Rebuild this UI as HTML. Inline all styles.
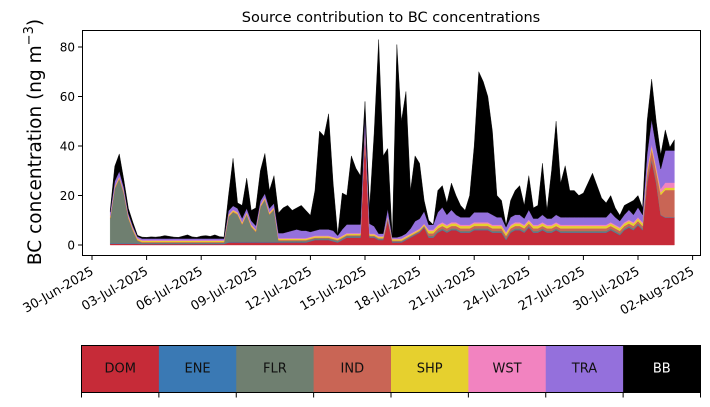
<!DOCTYPE html>
<html><head><meta charset="utf-8">
<style>
body{margin:0;background:#fff;width:710px;height:402px;overflow:hidden;font-family:"Liberation Sans","DejaVu Sans",sans-serif;}
svg text{font-family:"DejaVu Sans","Liberation Sans",sans-serif;}
</style></head>
<body>
<svg id="chart" width="710" height="402" viewBox="0 0 710 402" xmlns="http://www.w3.org/2000/svg">
<text x="391" y="22" font-size="14.5" text-anchor="middle">Source contribution to BC concentrations</text>
<text transform="translate(41,142) rotate(-90)" font-size="18.5" text-anchor="middle">BC concentration (ng m<tspan font-size="13" dy="-8">−3</tspan><tspan dy="8">)</tspan></text>
<g id="areas"></g>
<rect x="82.5" y="30.5" width="618" height="225" fill="none" stroke="#000" stroke-width="1"/>
<g id="axes"></g>
<g id="legend"></g>
</svg>
<script>
const sources = ["DOM","ENE","FLR","IND","SHP","WST","TRA","BB"];
const colors = ["#c62b38","#3a79b4","#6f7f70","#c96555","#e6d02e","#f283c0","#9470dc","#000000"];
const startDay = 0; // 01-Jul-2025 00:00, 6-hourly samples
const stepDays = 0.25;
const yTicks = [0,20,40,60,80];
const xTickDays = [-1,2,5,8,11,14,17,20,23,26,29,32];
const xTickLabels = ["30-Jun-2025","03-Jul-2025","06-Jul-2025","09-Jul-2025","12-Jul-2025","15-Jul-2025","18-Jul-2025","21-Jul-2025","24-Jul-2025","27-Jul-2025","30-Jul-2025","02-Aug-2025"];

const DOM = [.5,.5,.5,.5,.5,.5,.5,
.4,.4,.4,.4,.4,.4,.4,.4,.4,.4,.4,.4,.4,.4,.4,.4,.4,.4,.4,
1,1,1,1,1,1,1,1,1,1,1,
1,1,1,1,1,1,1,1.5,2,2,2,2,1.5,1,2,3,3,3,3,
46,3,3,2,2,10,1,1,1,2,3,4,5,7,
3,3,5,6,5,6,6,5,5,5,6,6,6,6,5,5,5,2,5,6,6,5,7,5,5,6,5,5,6,5,5,5,5,5,5,5,5,5,5,5,6,5,4,6,7,6,8,6,
25,34,25,12,11,11,11];
const ENE = [.2,.2,.2,.2,.2,.2,.2,.2,.2,.2,.2,.2,.2,.2,.2,.2,.2,.2,.2,.2,.2,.2,.2,.2,.2,
.2,.2,.2,.2,.2,.2,.2,.2,.2,.2,.2,.2,.2,.2,.2,.2,.2,.2,.2,.2,.2,.2,.2,.2,.2,
.2,.2,.2,.2,.2,.2,.2,.2,.2,.2,.2,.2,.2,.2,.2,.2,.2,.2,.2,.2,.2,.2,.2,.2,.2,
.2,.2,.2,.2,.2,.2,.2,.2,.2,.2,.2,.2,.2,.2,.2,.2,.2,.2,.2,.2,.2,.2,.2,.2,.2,
.2,.2,.2,.2,.2,.2,.2,.2,.2,.2,.2,.2,.2,.2,.2,.2,.2,.2,.2,.2,.2,.2,.2,.2,.2];
const FLR = [10,22,26,20,10,5,1,
.3,.3,.3,.3,.3,.3,.3,.3,.3,.3,.3,.3,.3,.3,.3,.3,.3,.3,.3,
10,12,11,7,11,6,4,14,17,11,13,
.5,.5,.5,.5,.5,.5,.5,.5,.5,.5,.5,.5,.5,.5,.5,.5,.5,.5,.5,
.3,.3,.3,.3,.3,.3,.3,.3,.3,.3,.3,.3,.3,.3,
.5,.5,.5,.5,.5,.5,.5,.5,.5,.5,.5,.5,.5,.5,.5,.5,.5,.5,.5,.5,.5,.5,.5,.5,.5,.5,.5,.5,.5,.5,.5,.5,.5,.5,.5,.5,.5,.5,.5,.5,.5,.5,.5,.5,
.5,.5,.5,.5,.5,.5,.5];
const IND = [.3,.3,.3,.3,.3,.3,.3,.3,.3,.3,.3,.3,.3,.3,.3,.3,.3,.3,.3,.3,.3,.3,.3,.3,.3,.3,.3,.3,.3,.3,.3,.3,.3,.3,.3,
.3,.3,.3,.3,.3,.3,.3,.3,.3,.3,.3,.3,.3,.3,.3,.3,.3,.3,.3,.3,.3,.3,.3,.3,.3,.3,.3,.3,.3,.3,.3,.3,.3,.3,.3,
1,1,1,1,1,1,1,1,1,1,1,1,1,1,1,1,1,1,1,1,1,1,1,1,1,1,1,1,1,1,1,1,1,1,1,1,1,1,1,1,1,1,1,1,1,1,1,1,
3,4,4,8,11,11,11];
const SHP = [.5,.5,.5,.5,.5,.5,.5,.5,.5,.5,.5,.5,.5,.5,.5,.5,.5,.5,.5,.5,.5,.5,.5,.5,.5,.5,.5,.5,.5,.5,.5,.5,.5,.5,.5,
.5,.5,.5,.5,.5,.5,.5,.5,.5,.5,.5,.5,.5,.5,.5,.5,.5,.5,.5,.5,.5,.5,.5,.5,.5,.5,.5,.5,.5,.5,.5,.5,.5,.5,.5,
1,1,1,1,1,1,1,1,1,1,1,1,1,1,1,1,1,1,1,1,1,1,1,1,1,1,1,1,1,1,1,1,1,1,1,1,1,1,1,1,1,1,1,1,1,1,1,1,
1,1,1,1,1,1,1];
const WST = [.3,.3,.3,.3,.3,.3,.3,.3,.3,.3,.3,.3,.3,.3,.3,.3,.3,.3,.3,.3,.3,.3,.3,.3,.3,.3,.3,.3,.3,.3,.3,.3,.3,.3,.3,
.3,.3,.3,.3,.3,.3,.3,.3,.3,.3,.3,.3,.3,.3,.3,.3,.3,.3,.3,.3,.3,.3,.3,.3,.3,.3,.3,.3,.3,.3,.3,.3,.3,.3,.3,
.5,.5,.5,.5,.5,.5,.5,.5,.5,.5,.5,.5,.5,.5,.5,.5,.5,.5,.5,.5,.5,.5,.5,.5,.5,.5,.5,.5,.5,.5,.5,.5,.5,.5,.5,.5,.5,.5,.5,.5,.5,.5,.5,.5,.5,.5,.5,.5,
1,1,1,1.5,2,2,2];
const TRA = [1.5,2,2,1.5,1,.8,.6,
.6,.6,.6,.6,.6,.6,.6,.6,.6,.6,.6,.6,.6,.6,.6,.6,.6,.6,.6,
1.5,1.5,1.5,1.5,1.5,1.5,1.5,1.5,1.5,1.5,1.5,
2,2,2.5,3,3.5,3,3,2,2,2.5,2.5,2.5,2.5,1,2.5,3.5,3.5,3.5,3.5,
5,4,3,1,1,3,.5,.5,1,1,2,4,4,5,
2,2,5,6,4,5,3,3,3,3,4,4,4,4,4,3,3,2,3,3,3,2.5,4,2.5,2.5,3,2.5,2.5,3,3,3,3,3,3,3,3,3,3,3,3,4,3,2.5,3,4,3,4,3,
6,10,8,8,13,13,13];
const BB = [0.7,6,7,3,2,1.5,0.5,
0.6,0.5,0.7,0.6,0.8,1.2,0.9,0.6,0.5,1.0,1.5,0.7,0.5,1.0,1.2,0.9,1.5,0.8,0.6,
6.2,19.2,2.2,5.2,12.2,4.2,7.2,12.2,16.2,7.2,11.2,
8.2,10.2,10.7,8.2,8.7,10.2,8.2,6.7,16.2,39.7,37.7,46.7,19.2,0.2,14.7,11.7,27.7,22.7,19.7,
5.4,6.4,37.4,78.4,31.4,24.4,0.1,77.9,46.4,57.4,15.4,26.4,22.4,4.4,
1.8,0,8.8,8.8,4.8,10.8,7.8,4.8,2.8,8.8,26.8,56.8,52.8,46.8,33.8,8.8,6.8,0.8,6.8,9.8,11.8,5.3,13.8,4.3,5.3,20.8,3.3,19.3,37.8,13.8,20.8,10.8,10.8,8.8,9.8,13.8,17.8,12.8,7.8,5.8,6.8,3.8,2.3,3.8,2.8,5.8,4.8,2.8,
13.3,16.3,10.3,5.8,8.3,1.3,4.3];

const series = [DOM,ENE,FLR,IND,SHP,WST,TRA,BB];
const NS = "http://www.w3.org/2000/svg";
function xScale(day){ return 110.2 + day*18.2; }
function yScale(v){ return 245 - v*2.475; }

const areas = document.getElementById('areas');
const n = DOM.length;
let base = new Array(n).fill(0);
series.forEach((s, k) => {
  const top = base.map((b,i) => b + (s[i]||0));
  let pts = [];
  for (let i=0;i<n;i++) pts.push(xScale(startDay+i*stepDays).toFixed(2)+","+yScale(top[i]).toFixed(2));
  for (let i=n-1;i>=0;i--) pts.push(xScale(startDay+i*stepDays).toFixed(2)+","+yScale(base[i]).toFixed(2));
  const p = document.createElementNS(NS,'polygon');
  p.setAttribute('points', pts.join(' '));
  p.setAttribute('fill', colors[k]);
  p.setAttribute('stroke', colors[k]);
  p.setAttribute('stroke-width', '0.4');
  
  
  areas.appendChild(p);
  base = top;
});

const axes = document.getElementById('axes');
yTicks.forEach(v => {
  const y = yScale(v);
  const l = document.createElementNS(NS,'line');
  l.setAttribute('x1',78); l.setAttribute('x2',82.5); l.setAttribute('y1',y); l.setAttribute('y2',y);
  l.setAttribute('stroke','#000');
  
  
  axes.appendChild(l);
  const t = document.createElementNS(NS,'text');
  t.setAttribute('x',75); t.setAttribute('y',y+4.5); t.setAttribute('font-size','12'); t.setAttribute('text-anchor','end');
  t.textContent = v;
  
  
  axes.appendChild(t);
});
xTickDays.forEach((d,i) => {
  const x = xScale(d);
  const l = document.createElementNS(NS,'line');
  l.setAttribute('x1',x); l.setAttribute('x2',x); l.setAttribute('y1',255.5); l.setAttribute('y2',260);
  l.setAttribute('stroke','#000');
  
  
  axes.appendChild(l);
  const t = document.createElementNS(NS,'text');
  t.setAttribute('transform','translate('+(x-2)+',266) rotate(-30)');
  t.setAttribute('font-size','12.8'); t.setAttribute('text-anchor','end');
  t.setAttribute('dominant-baseline','hanging');
  t.textContent = xTickLabels[i];
  
  
  axes.appendChild(t);
});

const legend = document.getElementById('legend');
const lx = 81.5, lw = 619/8;
sources.forEach((s,k) => {
  const r = document.createElementNS(NS,'rect');
  r.setAttribute('x', lx + k*lw); r.setAttribute('y', 345.5); r.setAttribute('width', lw+0.5); r.setAttribute('height', 47);
  r.setAttribute('fill', colors[k]);
  
  
  legend.appendChild(r);
  const t = document.createElementNS(NS,'text');
  t.setAttribute('x', lx + k*lw + lw/2); t.setAttribute('y', 372.5);
  t.setAttribute('font-size','13'); t.setAttribute('text-anchor','middle');
  t.setAttribute('fill', k===7 ? '#fff' : '#111');
  t.textContent = s;
  
  
  legend.appendChild(t);
});
for (let k=0;k<=8;k++){
  const l = document.createElementNS(NS,'line');
  const x = lx + k*lw;
  l.setAttribute('x1',x); l.setAttribute('x2',x); l.setAttribute('y1',392.5); l.setAttribute('y2',397.5);
  l.setAttribute('stroke','#000');
  
  
  legend.appendChild(l);
}
const fr = document.createElementNS(NS,'rect');
fr.setAttribute('x',lx); fr.setAttribute('y',345.5); fr.setAttribute('width',619); fr.setAttribute('height',47);
fr.setAttribute('fill','none'); fr.setAttribute('stroke','#000');


legend.appendChild(fr);
</script>
</body></html>
